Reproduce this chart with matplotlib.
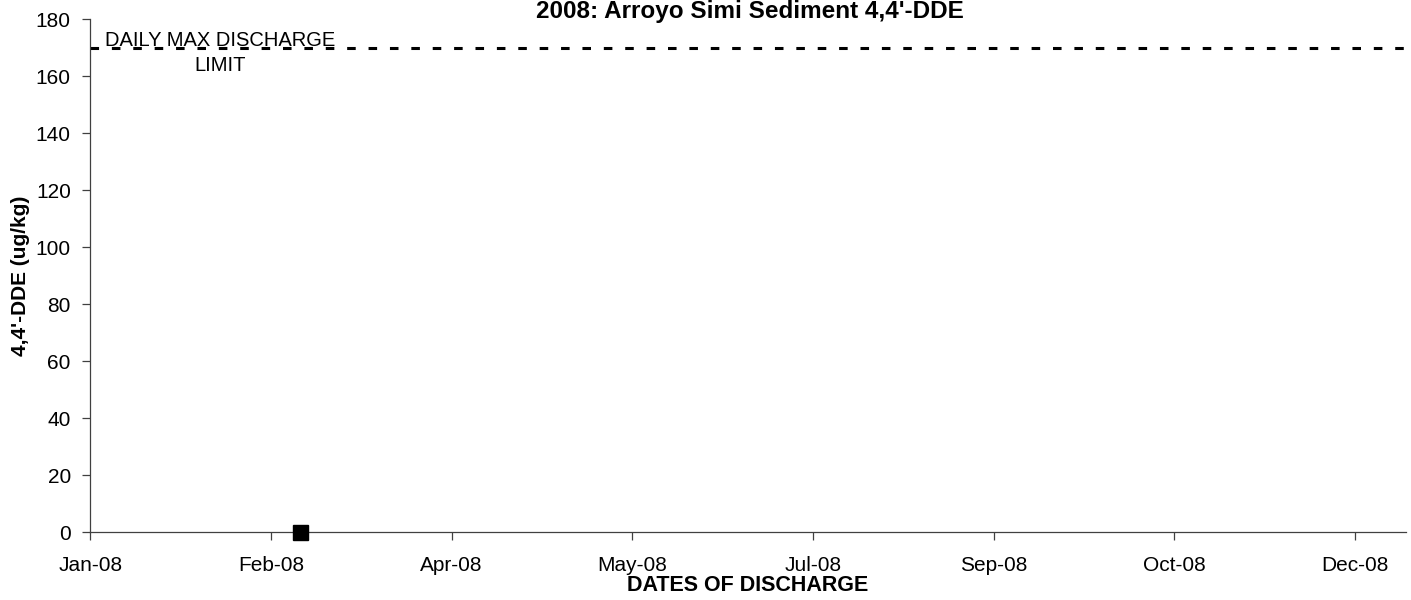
import pandas as pd
import numpy as np
import matplotlib
matplotlib.use("Agg")
import matplotlib.pyplot as plt
import matplotlib.dates as mdates

# -------------------------
# Data
# -------------------------
sample_dates = pd.to_datetime(["2008-02-28"])
dde_values = [0]

limit_value = 170
limit_label = "DAILY MAX DISCHARGE\nLIMIT"

axis_start = pd.to_datetime("2008-01-01")
axis_end = pd.to_datetime("2008-12-30")
y_ticks = list(range(0, 181, 20))

# -------------------------
# Plot
# -------------------------
plt.rcParams["font.family"] = ["Liberation Sans", "DejaVu Sans"]

fig = plt.figure(figsize=(14.11, 6), dpi=100)
ax = fig.add_axes([0.064, 0.1133, 0.9323, 0.855])

# limit line
ax.axhline(limit_value, color="black", linewidth=2.2,
           linestyle=(0, (2.8, 4.2)), dash_capstyle="butt")
ax.text(pd.to_datetime("2008-02-06"), 168.0, limit_label,
        ha="center", va="center", fontsize=14.5, linespacing=1.4)

# samples
ax.plot(sample_dates, dde_values, linestyle="none", marker="s",
        markersize=10.8, color="black", clip_on=False, zorder=5)

ax.set_xlim(axis_start, axis_end)
ax.set_ylim(0, 180)
ax.set_yticks(y_ticks)

x_ticks = pd.date_range(axis_start, periods=8, freq="50D")
ax.set_xticks(x_ticks)
ax.xaxis.set_major_formatter(mdates.DateFormatter("%b-%y"))

for side in ["top", "right"]:
    ax.spines[side].set_visible(False)
for side in ["left", "bottom"]:
    ax.spines[side].set_color("#404040")
    ax.spines[side].set_linewidth(0.9)

ax.tick_params(axis="both", direction="out", length=6, width=0.9,
               color="#404040", labelsize=15)
ax.tick_params(axis="x", pad=11)
ax.tick_params(axis="y", pad=8)

# title placed by hand so it sits just above the plot area
fig.text(0.5316, 1 - 18 / 600, "2008: Arroyo Simi Sediment 4,4'-DDE",
         ha="center", va="baseline", fontsize=17.5, fontweight="bold")
ax.set_xlabel("DATES OF DISCHARGE", fontsize=15.5, fontweight="bold",
              labelpad=0)
ax.set_ylabel("4,4'-DDE (ug/kg)", fontsize=15, fontweight="bold",
              labelpad=4)

fig.savefig("out.png", dpi=100)
plt.close(fig)
